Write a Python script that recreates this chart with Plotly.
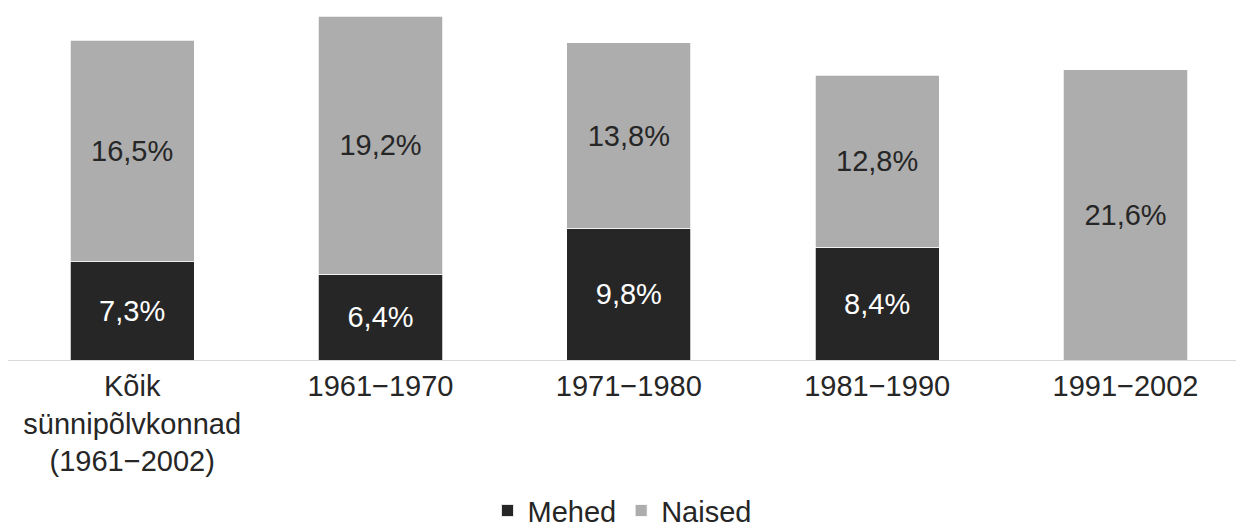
import plotly.graph_objects as go

categories = ["Kõik<br>sünnipõlvkonnad<br>(1961−2002)", "1961−1970", "1971−1980", "1981−1990", "1991−2002"]
mehed = [7.3, 6.4, 9.8, 8.4, None]
naised = [16.5, 19.2, 13.8, 12.8, 21.6]

DARK = "#262626"
GRAY = "#ADADAD"
FONT = "Liberation Sans, Arial, sans-serif"

fig = go.Figure()
fig.add_trace(go.Bar(
    name="Mehed", x=categories, y=mehed,
    marker=dict(color=DARK, line=dict(color="#FFFFFF", width=0.75)),
    texttemplate="%{y:.1f}%", textposition="inside", insidetextanchor="middle",
    textfont=dict(color="#FFFFFF", size=29, family=FONT),
    hoverinfo="skip",
))
fig.add_trace(go.Bar(
    name="Naised", x=categories, y=naised,
    marker=dict(color=GRAY, line=dict(color="#FFFFFF", width=0.75)),
    texttemplate="%{y:.1f}%", textposition="inside", insidetextanchor="middle",
    textfont=dict(color=DARK, size=29, family=FONT),
    hoverinfo="skip",
))

fig.update_layout(
    barmode="stack",
    bargap=0.5,
    width=1236, height=527,
    margin=dict(l=8, r=0, t=0, b=167),
    separators=", ",
    plot_bgcolor="#FFFFFF", paper_bgcolor="#FFFFFF",
    font=dict(family=FONT, size=29, color=DARK),
    uniformtext=dict(minsize=29, mode="show"),
    legend=dict(orientation="h", x=0.5, xanchor="center",
                yref="container", y=0.031, yanchor="middle",
                font=dict(size=29, color=DARK), itemwidth=30, traceorder="normal"),
    xaxis=dict(range=[-0.5, 4.445], showline=True, linecolor="#D9D9D9", linewidth=1,
               showgrid=False, ticks="", automargin=False,
               tickfont=dict(size=29, color=DARK)),
    yaxis=dict(range=[0, 26.8], visible=False, showgrid=False, automargin=False),
)

fig.write_html("out.html", config={"displayModeBar": False},
               post_script="document.body.style.margin='0';")
